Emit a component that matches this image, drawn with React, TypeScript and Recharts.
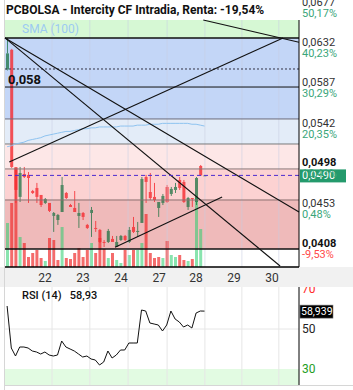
import { ComposedChart, Bar, Line, XAxis, YAxis, ReferenceLine, ReferenceArea, Cell } from 'recharts';

// hourly candles, slot index = candle number
const opens = [0.0608, 0.0630, 0.04983, 0.0466, 0.04916, 0.04905, 0.04726, 0.0476, 0.04682, 0.04593, 0.04593, 0.04448, 0.04403, 0.04492, 0.04704, 0.0457, 0.04537, 0.04448, 0.04481, 0.04348, 0.04481, 0.04314, 0.04292, 0.04158, 0.04158, 0.04192, 0.04102, 0.0418, 0.04225, 0.04158, 0.04325, 0.0427, 0.0437, 0.04882, 0.04715, 0.0466, 0.04537, 0.04593, 0.04771, 0.04693, 0.04738, 0.04849, 0.04827, 0.04548, 0.04648, 0.04604, 0.05005, 0.049];
const highs = [0.06432, 0.0631, 0.04983, 0.04994, 0.04994, 0.04938, 0.04738, 0.04816, 0.04682, 0.04648, 0.04593, 0.04492, 0.0447, 0.04882, 0.04715, 0.04582, 0.04726, 0.04593, 0.04492, 0.04359, 0.04548, 0.04392, 0.04303, 0.0418, 0.04303, 0.04225, 0.04225, 0.04236, 0.04236, 0.04325, 0.04437, 0.04381, 0.04882, 0.04905, 0.04927, 0.04816, 0.04604, 0.04693, 0.04793, 0.04771, 0.04816, 0.04882, 0.04849, 0.0466, 0.04648, 0.04882, 0.05016, 0.049];
const lows = [0.0607, 0.04983, 0.04593, 0.04604, 0.04871, 0.04593, 0.04693, 0.04593, 0.04548, 0.04582, 0.04492, 0.0427, 0.04348, 0.04492, 0.04637, 0.04548, 0.04492, 0.04314, 0.04403, 0.04303, 0.04214, 0.0427, 0.04147, 0.04102, 0.04147, 0.04158, 0.04102, 0.04169, 0.04169, 0.04147, 0.04258, 0.04214, 0.0437, 0.04593, 0.04626, 0.04604, 0.04437, 0.0457, 0.04593, 0.04671, 0.04704, 0.04738, 0.04593, 0.04515, 0.04548, 0.0457, 0.04894, 0.049];
const closes = [0.0626, 0.04994, 0.04738, 0.04927, 0.04882, 0.04871, 0.04704, 0.0466, 0.0457, 0.04637, 0.04504, 0.04481, 0.04459, 0.04793, 0.04648, 0.04548, 0.04492, 0.04481, 0.04437, 0.04314, 0.04515, 0.04303, 0.04158, 0.04147, 0.04281, 0.04158, 0.04158, 0.04225, 0.0418, 0.04292, 0.0427, 0.04281, 0.0486, 0.04827, 0.04648, 0.04626, 0.04604, 0.04671, 0.04604, 0.04749, 0.04771, 0.0476, 0.04604, 0.04648, 0.04637, 0.04871, 0.049, 0.049];
const volumes = [44, 64, 100, 30, 24, 10, 14, 17, 9, 6, 29, 27, 7, 40, 9, 8, 14, 19, 10, 17, 24, 14, 29, 18, 9, 14, 7, 4, 17, 12, 17, 17, 24, 53, 14, 9, 10, 9, 26, 12, 10, 12, 7, 6, 8, 70, 38, 0];
const sma100 = [0.0522, 0.0523, 0.0525, 0.0526, 0.0527, 0.0529, 0.053, 0.0531, 0.0532, 0.0534, 0.0535, 0.0536, 0.0537, 0.0538, 0.0539, 0.0539, 0.054, 0.0541, 0.0542, 0.0542, 0.0543, 0.0543, 0.0544, 0.0544, 0.0544, 0.0544, 0.0544, 0.0545, 0.0545, 0.0545, 0.0545, 0.0546, 0.0546, 0.0546, 0.0547, 0.0547, 0.0547, 0.0548, 0.0548, 0.0548, 0.0548, 0.0548, 0.0548, 0.0548, 0.0547, 0.0547, 0.0546, 0.0545];
const rsi14 = [61.5, 40.5, 36.5, 41, 41, 40.5, 39, 38.5, 37.5, 38.5, 37, 36.5, 37, 44, 41, 40, 39, 37.5, 36, 36.5, 35, 34.5, 32, 33.5, 39, 35.5, 37, 39.5, 39.5, 43, 43, 43, 59.5, 59, 53, 52.5, 52, 49, 52, 59, 55, 53.5, 51, 52, 50.5, 58, 59, 58.94];

const dayTicks = [9.5, 18.6, 27.6, 36.7, 45.5, 54.5, 63.6];
const dayLabels = ['22', '23', '24', '27', '28', '29', '30'];
const dayBounds = [11.2, 20.2, 29.3, 38.6, 47.6, 56.4, 65.2];

const priceTicks = [0.0677, 0.0632, 0.0587, 0.0542, 0.0498, 0.0453, 0.0408];
const pctLabels = ['50,17%', '40,23%', '30,29%', '20,35%', '10,41%', '0,48%', '-9,53%'];
const boldTicks = [0.0498, 0.0408];

// fibonacci retracement levels, high to low
const fibLevels = [0.06432, 0.06086, 0.05885, 0.05529, 0.0525, 0.04972, 0.04626, 0.0408];
const lastPrice = 0.049;
const lastRsi = 58.939;

const trendLines = [
  [{ x: 0, y: 0.06432 }, { x: 65.5, y: 0.0389 }],
  [{ x: 0, y: 0.06432 }, { x: 70, y: 0.04492 }],
  [{ x: 1, y: 0.0505 }, { x: 66.2, y: 0.06432 }],
  [{ x: 47.2, y: 0.06632 }, { x: 70, y: 0.06384 }],
  [{ x: 26.2, y: 0.0410 }, { x: 51.7, y: 0.0466 }],
];

const data = opens.map((o, i) => ({
  x: i + 0.5,
  open: o,
  high: highs[i],
  low: lows[i],
  close: closes[i],
  vol: volumes[i],
  volUp: i === 0 ? closes[i] >= o : closes[i] >= closes[i - 1],
  sma: sma100[i],
}));
const rsiData = rsi14.map((v, i) => ({ x: i + 0.5, rsi: v }));

const UP = 'rgba(20,110,60,0.72)';
const DOWN = 'rgba(245,40,45,0.8)';
const FONT = 'Roboto, sans-serif';

const Candle = (props: any) => {
  const { x, y, width, height, payload } = props;
  if (!payload || payload.open == null) return null;
  const { open, close, high, low } = payload;
  const top = Math.min(y, y + height);
  const h = Math.abs(height);
  const range = high - low;
  const toY = (v: number) => (range === 0 ? top : top + ((high - v) / range) * h);
  const color = close >= open ? UP : DOWN;
  const cx = x + width / 2;
  const bTop = toY(Math.max(open, close));
  const bBot = Math.max(toY(Math.min(open, close)), bTop + 1);
  return (
    <g>
      {bTop > top && <line x1={cx} x2={cx} y1={top} y2={bTop} stroke={color} strokeWidth={1} />}
      {top + h > bBot && <line x1={cx} x2={cx} y1={bBot} y2={top + h} stroke={color} strokeWidth={1} />}
      <rect x={x} y={bTop} width={width} height={bBot - bTop} fill={color} />
    </g>
  );
};

const PriceTick = (props: any) => {
  const { x, y, payload } = props;
  const i = priceTicks.indexOf(payload.value);
  const bold = boldTicks.includes(payload.value);
  const pct = pctLabels[i];
  return (
    <g>
      <text x={x} y={y - 2} fontSize={11} fontFamily={FONT} fontWeight={bold ? 700 : 400} fill={bold ? '#111' : '#333'}>
        {payload.value.toFixed(4).replace('.', ',')}
      </text>
      <text x={x} y={y + 9} fontSize={11} fontFamily={FONT} fill={pct.startsWith('-') ? '#ff4a4a' : '#3aa67a'}>
        {pct}
      </text>
    </g>
  );
};

const RsiTick = (props: any) => {
  const { x, y, payload } = props;
  const c = payload.value === 70 ? '#ff2a2a' : payload.value === 30 ? '#1e9e1e' : '#222';
  return (
    <text x={x} y={y + 4} fontSize={12} fontFamily={FONT} fill={c}>
      {payload.value}
    </text>
  );
};

const fibStroke = ['#111', '#334', '#111', '#6c6c7c', '#7a7a7a', '#8a7a7a', '#8a7070', '#111'];

export default function App() {
  return (
    <div style={{ position: 'absolute', left: 0, top: 0, width: 353, height: 390, background: '#fff', overflow: 'hidden', fontFamily: FONT }}>
      <div style={{ position: 'absolute', left: 0, top: 267, width: 353, height: 20, background: '#f1f1f1' }} />
      <div style={{ position: 'absolute', left: 4, top: 0, width: 1, height: 390, background: '#d6d6d6' }} />
      <div style={{ position: 'absolute', left: 4, top: 385, width: 349, height: 1, background: '#d6d6d6' }} />
      <div style={{ position: 'absolute', left: 0, top: 0 }}>
        <ComposedChart width={353} height={287} data={data} margin={{ top: 0, right: 0, bottom: 0, left: 5 }}>
          <XAxis xAxisId="main" dataKey="x" type="number" domain={[0, 70]} ticks={dayTicks} allowDataOverflow
            tickFormatter={(v: number) => dayLabels[dayTicks.indexOf(v)]} axisLine={false} tickLine={false}
            tickSize={4} tickMargin={2} height={20} tick={{ fontSize: 12, fill: '#333', fontFamily: FONT }} interval={0} />
          <XAxis xAxisId="vol" dataKey="x" type="number" domain={[0, 70]} hide />
          <YAxis yAxisId="price" orientation="right" width={54} domain={[0.03879, 0.06855]} ticks={priceTicks}
            allowDataOverflow axisLine={false} tickLine={false} tickSize={0} tickMargin={3} tick={<PriceTick />} interval={0} />
          <YAxis yAxisId="vol" hide domain={[0, 267]} />

          <ReferenceArea xAxisId="main" yAxisId="price" y1={0.06432} y2={0.06632} fill="#d6f8d4" fillOpacity={1} stroke="none" ifOverflow="visible"
            label={(p: any) => <text x={p.viewBox.x + 17} y={p.viewBox.y + 13} fontSize={12} fontFamily={FONT} fill="#9ccaf2">SMA (100)</text>} />
          <ReferenceArea xAxisId="main" yAxisId="price" y1={0.05529} y2={0.06432} fill="#c3d6f7" fillOpacity={1} stroke="none" />
          <ReferenceArea xAxisId="main" yAxisId="price" y1={0.0525} y2={0.05529} fill="#e3ecf8" fillOpacity={1} stroke="none" />
          <ReferenceArea xAxisId="main" yAxisId="price" y1={0.04972} y2={0.0525} fill="#fde7e7" fillOpacity={1} stroke="none" />
          <ReferenceArea xAxisId="main" yAxisId="price" y1={0.04626} y2={0.04972} fill="#fcd2d2" fillOpacity={1} stroke="none" />
          <ReferenceArea xAxisId="main" yAxisId="price" y1={0.0408} y2={0.04626} fill="#efbaba" fillOpacity={1} stroke="none" />

          {dayBounds.map((d) => (
            <ReferenceLine key={d} xAxisId="main" yAxisId="price" segment={[{ x: d, y: 0.03879 }, { x: d, y: 0.06632 }]} stroke="rgba(200,205,225,0.55)" />
          ))}

          <Bar xAxisId="vol" yAxisId="vol" dataKey="vol" barSize={3} isAnimationActive={false}>
            {data.map((d, i) => (
              <Cell key={i} fill={d.volUp ? 'rgba(40,205,110,0.55)' : 'rgba(240,45,45,0.7)'} />
            ))}
          </Bar>

          {fibLevels.map((f, i) => (
            <ReferenceLine key={f} xAxisId="main" yAxisId="price" y={f} stroke={fibStroke[i]}
              strokeWidth={i === 0 || i === 7 ? 1.4 : 1} strokeDasharray={i === 1 ? '2 2' : undefined}
              label={i === 2 ? (p: any) => <text x={p.viewBox.x + 3} y={p.viewBox.y - 3} fontSize={13} fontWeight={700} fontFamily={FONT} fill="#111">0,058</text> : undefined} />
          ))}

          <Bar xAxisId="main" yAxisId="price" dataKey={(d: any) => [d.low, d.high]} barSize={3} shape={<Candle />} isAnimationActive={false} />
          <Line xAxisId="main" yAxisId="price" dataKey="sma" stroke="#8ec3f0" strokeWidth={1} dot={false} isAnimationActive={false} />

          {trendLines.map((s, i) => (
            <ReferenceLine key={i} xAxisId="main" yAxisId="price" segment={s} stroke="#111" strokeWidth={1.1} ifOverflow="visible" />
          ))}

          <ReferenceLine xAxisId="main" yAxisId="price" y={lastPrice} stroke="#4b2bd0" strokeDasharray="4 3"
            label={(p: any) => (
              <g>
                <rect x={p.viewBox.x + p.viewBox.width + 1} y={p.viewBox.y - 6} width={46} height={13} fill="#249a6c" />
                <text x={p.viewBox.x + p.viewBox.width + 3} y={p.viewBox.y + 4} fontSize={11} fontFamily={FONT} fill="#fff">0,0490</text>
              </g>
            )} />

          <ReferenceLine xAxisId="main" yAxisId="price" segment={[{ x: 70, y: 0.03879 }, { x: 70, y: 0.06632 }]} stroke="#000" ifOverflow="visible" />
          <ReferenceLine xAxisId="main" yAxisId="price" segment={[{ x: 0, y: 0.03879 }, { x: 70, y: 0.03879 }]} stroke="#000" strokeWidth={1.4} ifOverflow="visible" />
        </ComposedChart>
      </div>
      <div style={{ position: 'absolute', left: 6, top: 3, fontSize: 12, fontWeight: 700, color: '#111', whiteSpace: 'nowrap' }}>
        PCBOLSA - Intercity CF Intradia, Renta: -19,54%
      </div>

      <div style={{ position: 'absolute', left: 0, top: 287 }}>
        <ComposedChart width={353} height={103} data={rsiData} margin={{ top: 0, right: 0, bottom: 5, left: 5 }}>
          <XAxis dataKey="x" type="number" domain={[0, 70]} hide />
          <YAxis orientation="right" width={54} domain={[22, 71]} ticks={[30, 50, 70]} allowDataOverflow
            axisLine={false} tickLine={false} tickSize={0} tickMargin={3} tick={<RsiTick />} interval={0} />
          <ReferenceArea y1={22} y2={30} fill="#e2fbe2" fillOpacity={1} stroke="none" />
          {dayBounds.map((d) => (
            <ReferenceLine key={d} x={d} stroke="#e6e6e6" />
          ))}
          <ReferenceLine y={50} stroke="#e6e6e6" />
          <Line dataKey="rsi" stroke="#111" strokeWidth={1} dot={false} isAnimationActive={false} />
          <ReferenceLine y={lastRsi} stroke="none"
            label={(p: any) => (
              <g>
                <rect x={p.viewBox.x + p.viewBox.width + 1} y={p.viewBox.y - 6} width={33} height={13} fill="#000" stroke="#777" strokeWidth={0.6} />
                <text x={p.viewBox.x + p.viewBox.width + 2} y={p.viewBox.y + 4} fontSize={10.5} fontFamily={FONT} fill="#fff">58,939</text>
              </g>
            )} />
          <ReferenceLine segment={[{ x: 70, y: 22 }, { x: 70, y: 71 }]} stroke="#000" ifOverflow="visible" />
        </ComposedChart>
      </div>
      <div style={{ position: 'absolute', left: 22, top: 289, fontSize: 11, fontWeight: 500, color: '#111', whiteSpace: 'nowrap' }}>
        RSI (14)&nbsp;&nbsp;&nbsp;58,93
      </div>
    </div>
  );
}
